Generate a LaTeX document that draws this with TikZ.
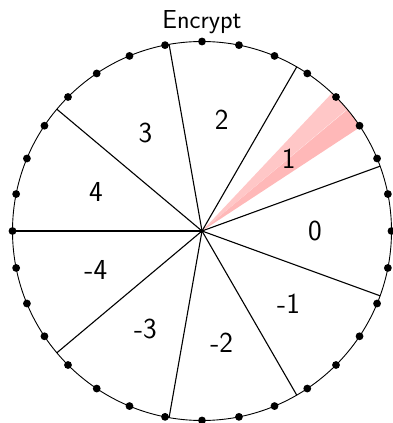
\documentclass[tikz,border=0pt]{standalone}
\usepackage{fontspec}
\usetikzlibrary{calc}
\tikzset{
  rim/.style={line width=0.9pt},
  spoke/.style={line width=1.1pt},
  tick/.style={fill=black},
  lbl/.style={font=\sffamily\fontsize{29}{33}\selectfont},
  ttl/.style={font=\sffamily\fontsize{26}{30}\selectfont},
}
\begin{document}
\begin{tikzpicture}[x=1pt,y=1pt]
  \useasboundingbox (0,0) rectangle (392,423);
  \def\R{189.5}
  \coordinate (c) at (202,192);
  % highlighted band around the sector of 1
  \fill[red!22] (c) -- ($(c)+(40:\R)$) arc[start angle=40,end angle=46.7,radius=\R] -- cycle;
  \fill[red!28] (c) -- ($(c)+(33.3:\R)$) arc[start angle=33.3,end angle=39.85,radius=\R] -- cycle;
  % sector boundaries
  \foreach \a in {20,60,...,340}
    \draw[spoke] (c) -- ($(c)+(\a:\R)$);
  % rim
  \draw[rim] (c) circle[radius=\R];
  % 32 marks on the rim
  \foreach \k in {0,...,31}
    \fill[tick] ($(c)+(\k*11.25:\R)$) circle[radius=3.9];
  % sector labels
  \foreach \n/\a in {0/0,1/40,2/80,3/120,4/160,-4/200,-3/240,-2/280,-1/320}
    \node[lbl] (s\n) at ($(c)+(\a:113)$) {\n};
  \node[ttl,anchor=base] (title) at (202,394) {Encrypt};
\end{tikzpicture}
\end{document}
